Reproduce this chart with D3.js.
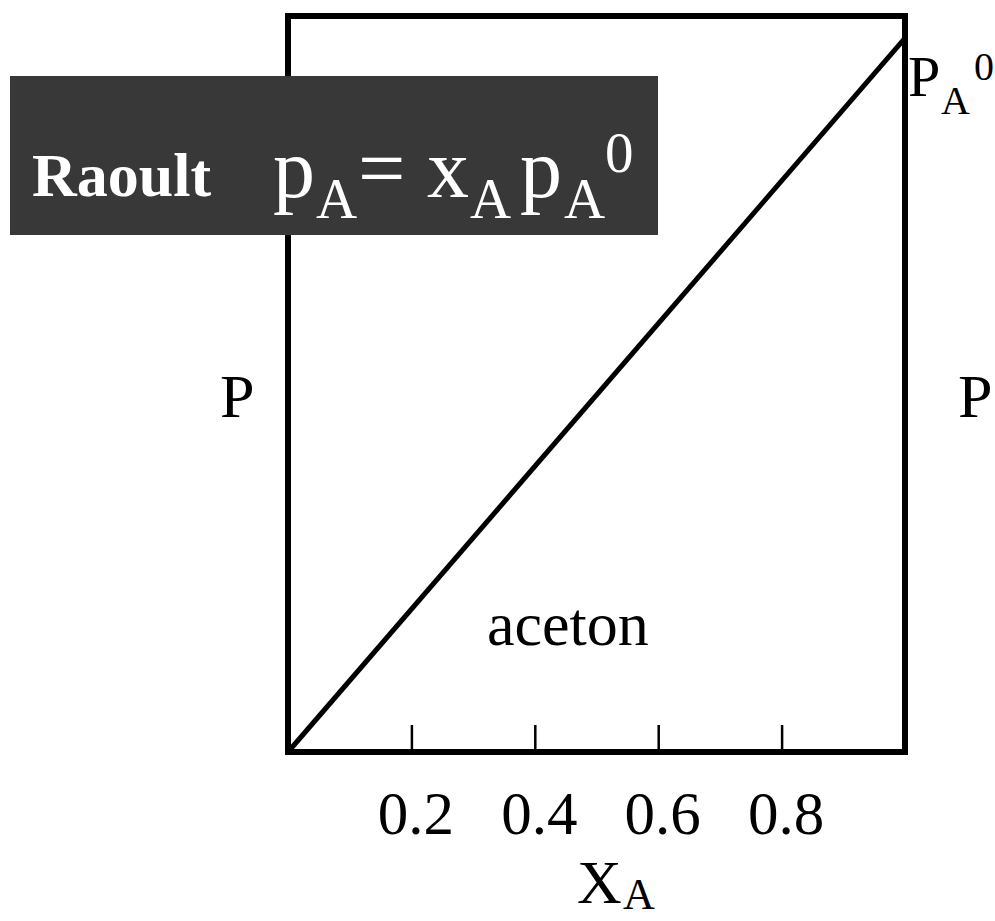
<!DOCTYPE html>
<html lang="en">
<head>
<meta charset="UTF-8">
<title>Raoult</title>
<script src="https://d3js.org/d3.v7.min.js"></script>
<style>
  body { margin: 0; background: #fff; }
  text { font-family: "Liberation Serif", "Times New Roman", serif; }
</style>
</head>
<body>
<div id="chart"></div>
<script>
// data
const xA = [0, 1]            // mole fraction of A
const pA = [0, 0.97]         // partial pressure, pA = xA * pA0
const tickVals = [0.2, 0.4, 0.6, 0.8]
const tickLabels = ["0.2", "0.4", "0.6", "0.8"]

const W = 995, H = 921
const BOX = { LEFT: 288, RIGHT: 905, TOP: 16, BOTTOM: 752 }

const svg = d3.select("#chart").append("svg")
    .attr("width", W).attr("height", H)

const x = d3.scaleLinear().domain([0, 1]).range([BOX.LEFT, BOX.RIGHT])
const y = d3.scaleLinear().domain([0, 1]).range([BOX.BOTTOM, BOX.TOP])

// frame
svg.append("rect")
    .attr("x", x(0)).attr("y", y(1))
    .attr("width", x(1) - x(0)).attr("height", y(0) - y(1))
    .attr("fill", "none").attr("stroke", "#000").attr("stroke-width", 6)

// ticks (inward) with labels further below
const xAxis = d3.axisBottom(x).tickValues(tickVals)
    .tickSize(-27).tickPadding(50)
    .tickFormat((d, i) => tickLabels[i])
const ax = svg.append("g").attr("transform", `translate(0, ${y(0)})`).call(xAxis)
ax.select(".domain").remove()
ax.selectAll("line").attr("stroke", "#000").attr("stroke-width", 2.5)
ax.selectAll("text").attr("font-size", 61).attr("fill", "#000")
    .attr("font-family", "Liberation Serif").attr("dy", 0).attr("y", 834 - y(0))
    .attr("dx", 4)

// Raoult line
const line = d3.line().x(d => x(d[0])).y(d => y(d[1]))
svg.append("path")
    .datum(xA.map((v, i) => [v, pA[i]]))
    .attr("d", line)
    .attr("fill", "none").attr("stroke", "#000").attr("stroke-width", 5)

// labels
const lab = (px, py, s, size, extra) => svg.append("text")
    .attr("x", px).attr("y", py).attr("font-size", size).attr("fill", extra || "#000").text(s)

lab(220, 417, "P", 62)
lab(958, 417, "P", 62)
lab(487, 645, "aceton", 62)
lab(577, 903, "X", 62)
lab(623, 909, "A", 44)

// P_A^0 at top right
lab(908, 96, "P", 58)
lab(941, 114, "A", 40)
lab(974, 80, "0", 40)

// dark formula box
svg.append("rect").attr("x", 10).attr("y", 76).attr("width", 648).attr("height", 159)
    .attr("fill", "#383838")
lab(32, 196, "Raoult", 62, "#fff").attr("font-weight", "bold")
lab(273, 197, "p", 84, "#fff")
lab(316, 218, "A", 57, "#fff")
lab(358, 197, "=", 84, "#fff")
lab(427, 197, "x", 84, "#fff")
lab(470, 218, "A", 57, "#fff")
lab(520, 197, "p", 84, "#fff")
lab(564, 218, "A", 57, "#fff")
lab(605, 172, "0", 57, "#fff")
</script>
</body>
</html>
